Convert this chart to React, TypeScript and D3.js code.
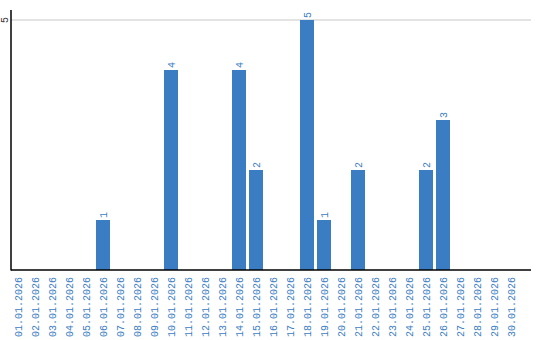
import React from "react";
import * as d3 from "d3";

const categories = Array.from({ length: 30 }, (_, i) =>
  `${String(i + 1).padStart(2, "0")}.01.2026`
);
const values = [0, 0, 0, 0, 0, 1, 0, 0, 0, 4, 0, 0, 0, 4, 2, 0, 0, 5, 1, 0, 2, 0, 0, 0, 2, 3, 0, 0, 0, 0];
const yTicks = [5];

const W = 540, H = 340;
const left = 11, right = 531, base = 270, top = 10;
const blue = "#3b7dc3";
const font = "'Liberation Mono', 'DejaVu Sans Mono', monospace";

export default function App() {
  const x = d3.scaleBand<string>().domain(categories).range([11, 518]).paddingInner(3 / 17).paddingOuter(0).align(0);
  const y = d3.scaleLinear().domain([0, 5]).range([base, 20]);
  return (
    <svg width={W} height={H} style={{ position: "absolute", left: 0, top: 0 }}>
      <rect width={W} height={H} fill="#fff" />
      {yTicks.map((t) => (
        <g key={t}>
          <line x1={left} x2={right} y1={y(t)} y2={y(t)} stroke="#c8c8c8" strokeWidth={1} />
          <text transform={`translate(8,${y(t)}) rotate(-90)`} textAnchor="middle" fontFamily={font} fontSize={10} fill="#333">{t}</text>
        </g>
      ))}
      {categories.map((c, i) =>
        values[i] > 0 ? (
          <g key={c}>
            <rect x={x(c)} y={y(values[i])} width={x.bandwidth()} height={base - y(values[i])} fill={blue} />
            <text transform={`translate(${(x(c) as number) + x.bandwidth() / 2 + 3.5},${y(values[i]) - 2}) rotate(-90)`} fontFamily={font} fontSize={10} fill={blue}>{values[i]}</text>
          </g>
        ) : null
      )}
      <line x1={left} x2={left} y1={top} y2={base + 0.5} stroke="#000" strokeWidth={1.5} />
      <line x1={left} x2={right} y1={base} y2={base} stroke="#000" strokeWidth={1.5} />
      {categories.map((c) => (
        <text key={c} transform={`translate(${(x(c) as number) + x.bandwidth() / 2 + 3.5},277) rotate(-90)`} textAnchor="end" fontFamily={font} fontSize={10} fill={blue}>{c}</text>
      ))}
    </svg>
  );
}
